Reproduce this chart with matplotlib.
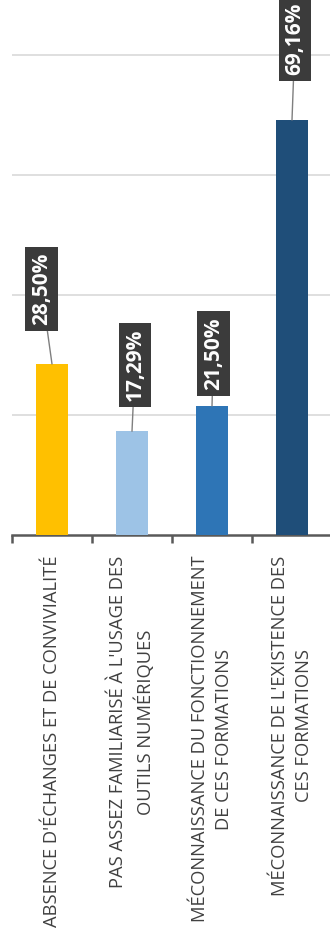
import matplotlib
matplotlib.use("Agg")
import matplotlib.pyplot as plt
from matplotlib.ticker import FixedLocator, PercentFormatter

# raisons invoquées
categories = [
    "ABSENCE D'ÉCHANGES ET DE CONVIVIALITÉ",
    "PAS ASSEZ FAMILIARISÉ À L'USAGE DES\nOUTILS NUMÉRIQUES",
    "MÉCONNAISSANCE DU FONCTIONNEMENT\nDE CES FORMATIONS",
    "MÉCONNAISSANCE DE L'EXISTENCE DES\nCES FORMATIONS",
]
values = [28.50, 17.29, 21.50, 69.16]
value_labels = ["28,50%", "17,29%", "21,50%", "69,16%"]
bar_colors = ["#FFC000", "#9DC3E6", "#2E75B6", "#1F4E79"]

# décalage des étiquettes (pixels) par rapport au haut de chaque barre
label_dx = [-10.5, 3, 1.5, 3]
label_dy = [75, 66, 52.5, 81.5]

plt.rcParams['font.family'] = ['Open Sans', 'DejaVu Sans']

fig = plt.figure(figsize=(3.30, 9.43), dpi=100)
ax = fig.add_axes([12 / 330, 408 / 943, 320 / 330, 535 / 943])

x = list(range(len(values)))
ax.bar(x, values, width=0.41, color=bar_colors, zorder=3)

ax.set_xlim(-0.5, len(values) - 0.5)
ax.set_ylim(0, 535 / 6)

# grille horizontale tous les 20 %
ax.set_yticks([20, 40, 60, 80])
ax.yaxis.set_major_formatter(PercentFormatter(decimals=0))
ax.grid(axis='y', color='#d9d9d9', linewidth=1.2, zorder=0)
ax.tick_params(axis='y', left=False, labelleft=False)

for side in ['top', 'right', 'left']:
    ax.spines[side].set_visible(False)
ax.spines['bottom'].set_color('#595959')
ax.spines['bottom'].set_linewidth(1.8)

# ticks aux séparations des catégories, libellés au centre
ax.set_xticks(x)
ax.set_xticklabels(categories, rotation=90, fontsize=13.2, color='#404040',
                   linespacing=1.42)
ax.xaxis.set_minor_locator(FixedLocator([i - 0.5 for i in range(len(values) + 1)]))
ax.tick_params(axis='x', which='major', length=0, pad=15)
ax.tick_params(axis='x', which='minor', length=6, width=1.8, color='#595959')

# étiquettes de données dans des boîtes sombres avec trait de rappel
for i, v in enumerate(values):
    ax.annotate(value_labels[i], xy=(i, v),
                xytext=(label_dx[i], label_dy[i]), textcoords='offset pixels',
                rotation=90, ha='center', va='center',
                fontsize=15, fontweight='bold', color='white',
                bbox=dict(boxstyle='square,pad=0.28', fc='#3b3b3b', ec='none'),
                arrowprops=dict(arrowstyle='-', color='#7f7f7f', lw=1,
                                shrinkA=0, shrinkB=0),
                zorder=5, annotation_clip=False)

fig.savefig('out.png', dpi=100)
